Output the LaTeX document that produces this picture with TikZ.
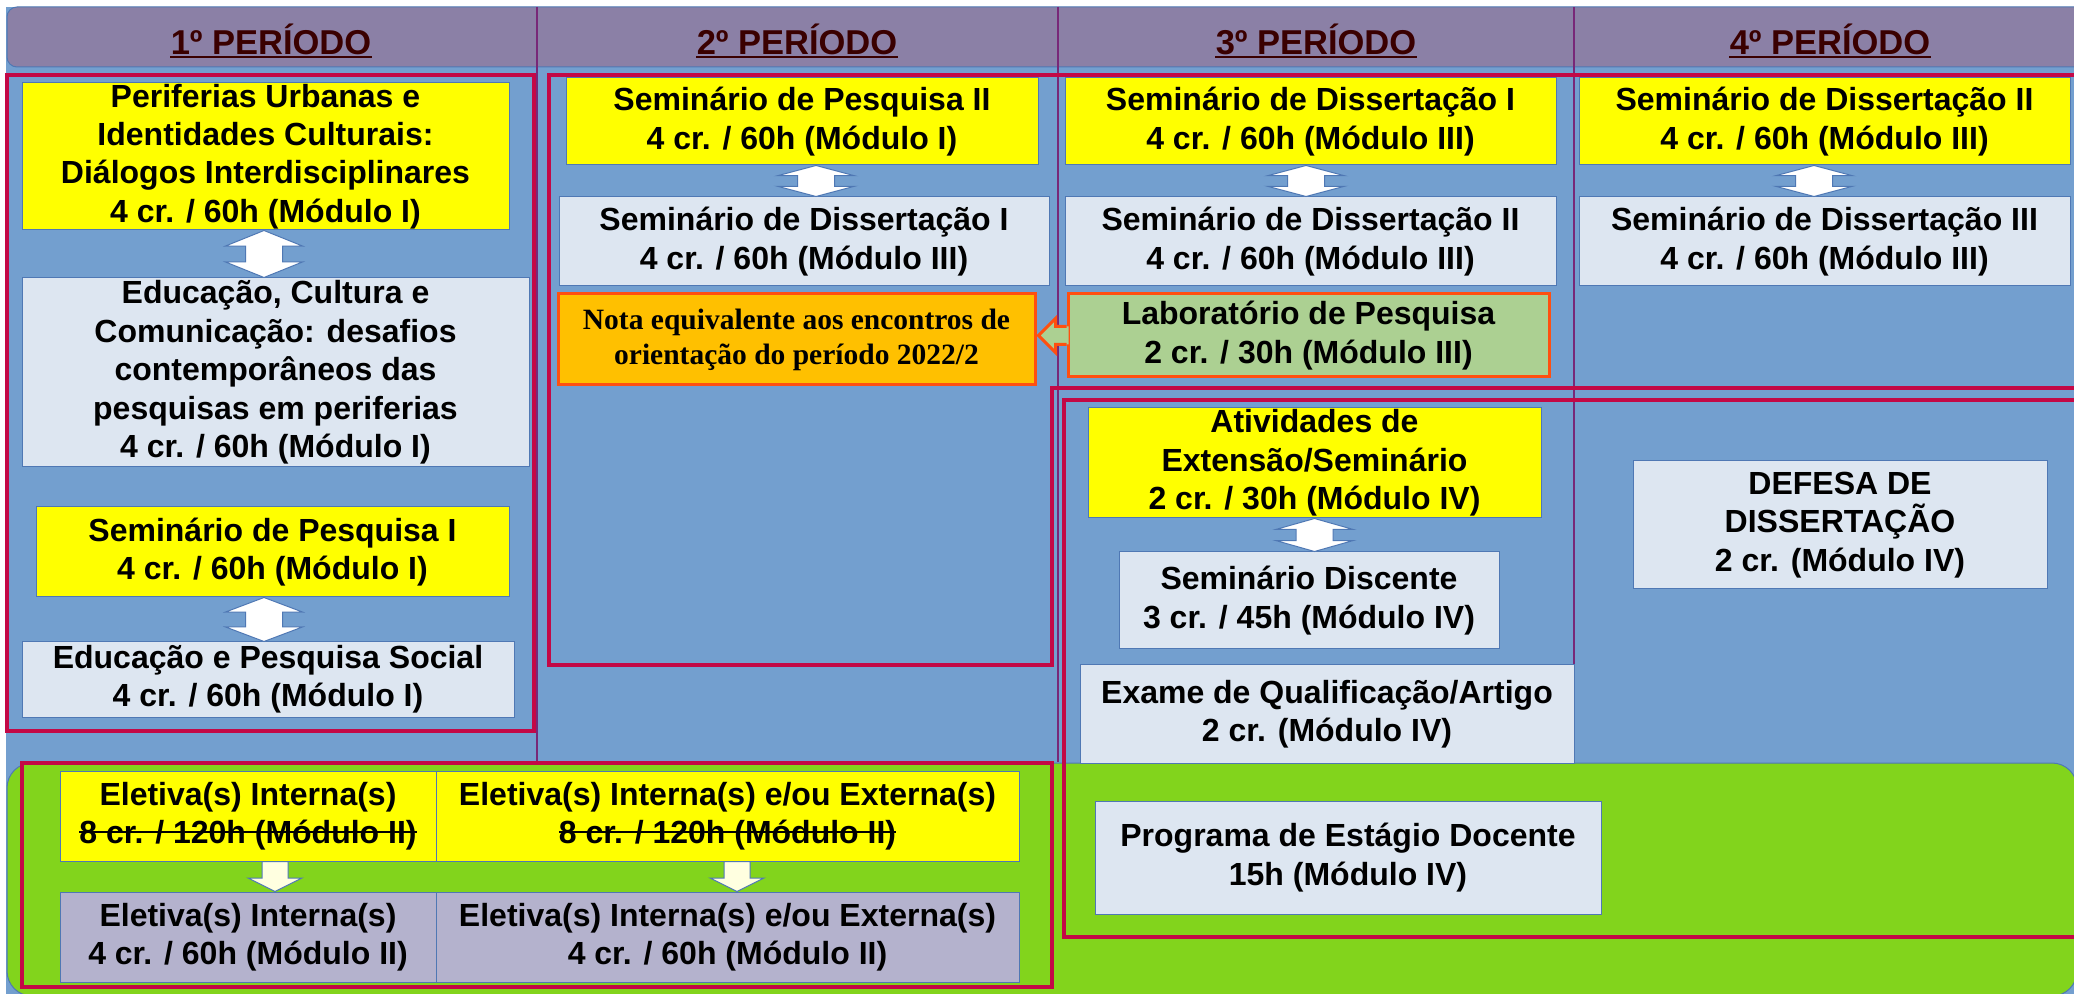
\documentclass[tikz,border=0pt]{standalone}
\usepackage{fontspec}
\setmainfont{Liberation Sans}
\newfontfamily\notafont{Liberation Serif}
\usetikzlibrary{calc}

\newsavebox\crossbox
\newcommand{\crossout}[1]{\sbox\crossbox{#1}\rlap{\rule[0.34em]{\wd\crossbox}{1pt}}\usebox\crossbox}

\definecolor{bgblue}{RGB}{115,159,207}
\definecolor{headpurple}{RGB}{139,128,166}
\definecolor{headtext}{RGB}{58,0,0}
\definecolor{framered}{RGB}{195,8,70}
\definecolor{divline}{RGB}{120,40,120}
\definecolor{boxline}{RGB}{79,120,180}
\definecolor{boxgray}{RGB}{221,230,241}
\definecolor{boxyellow}{RGB}{255,255,0}
\definecolor{eletgray}{RGB}{180,178,205}
\definecolor{labgreen}{RGB}{172,208,146}
\definecolor{notafill}{RGB}{255,192,0}
\definecolor{notaedge}{RGB}{255,80,16}
\definecolor{areagreen}{RGB}{130,212,28}
\definecolor{arrowcream}{RGB}{255,255,224}

\tikzset{
  period/.style={font=\bfseries\fontsize{17.25}{20}\selectfont, text=headtext, inner sep=0pt},
  periodline/.style={draw=headtext, line width=1pt},
  cbox/.style={draw=boxline, line width=0.5pt, align=center, inner xsep=2pt, inner ysep=0pt,
               font=\bfseries\fontsize{16}{19.2}\selectfont},
  ybox/.style={cbox, fill=boxyellow},
  gbox/.style={cbox, fill=boxgray},
  ebox/.style={cbox, fill=eletgray},
  labbox/.style={cbox, draw=notaedge, line width=1.5pt, fill=labgreen},
  notabox/.style={draw=notaedge, line width=1.5pt, fill=notafill, align=center, inner sep=0pt,
                  font=\notafont\bfseries\fontsize{14.75}{17.5}\selectfont},
  redframe/.style={draw=framered, line width=1.6pt},
  coldiv/.style={draw=divline, line width=0.6pt},
  twowayarrow/.style={fill=white, draw=boxline, line width=0.5pt},
  onewayarrow/.style={fill=arrowcream, draw=boxline, line width=0.5pt}
}

\newcommand{\twoway}[3]{%
  \filldraw[twowayarrow] let \p1=([xshift=#3]#1.south), \p2=(#2.north), \n1={\y1-\y2} in
    (\x1,\y1) -- ({\x1+19.25pt},{\y1-0.33*\n1}) -- ({\x1+9.25pt},{\y1-0.33*\n1})
    -- ({\x1+9.25pt},{\y1-0.67*\n1}) -- ({\x1+19.25pt},{\y1-0.67*\n1}) -- (\x1,\y2)
    -- ({\x1-19.25pt},{\y1-0.67*\n1}) -- ({\x1-9.25pt},{\y1-0.67*\n1})
    -- ({\x1-9.25pt},{\y1-0.33*\n1}) -- ({\x1-19.25pt},{\y1-0.33*\n1}) -- cycle;}
\newcommand{\oneway}[3]{%
  \filldraw[onewayarrow] let \p1=([xshift=#3]#1.south), \p2=(#2.north), \n1={\y1-\y2} in
    ({\x1-6.5pt},\y1) -- ({\x1+6.5pt},\y1) -- ({\x1+6.5pt},{\y1-0.55*\n1})
    -- ({\x1+13.5pt},{\y1-0.55*\n1}) -- (\x1,\y2) -- ({\x1-13.5pt},{\y1-0.55*\n1})
    -- ({\x1-6.5pt},{\y1-0.55*\n1}) -- cycle;}

\begin{document}
\begin{tikzpicture}[x=0.5pt,y=-0.5pt]
\useasboundingbox (0,0) rectangle (2074,994);
\clip (0,0) rectangle (2074,994);
\fill[white] (0,0) rectangle (2074,994);
\fill[bgblue] (6,7) rectangle (2074,994);
\filldraw[fill=headpurple, draw=boxline, line width=0.5pt, rounded corners=5pt] (7,7) rectangle (2090,67);
\filldraw[fill=areagreen, draw=boxline, line width=0.5pt, rounded corners=12.5pt] (7,763) rectangle (2077,996);
\foreach \cx in {537,1058,1574} \draw[coldiv] (\cx,7) -- (\cx,762);

\node[period] (p1) at (271,39) {1º PERÍODO};
\node[period] (p2) at (797,39) {2º PERÍODO};
\node[period] (p3) at (1316,39) {3º PERÍODO};
\node[period] (p4) at (1830,39) {4º PERÍODO};
\foreach \p in {p1,p2,p3,p4}
  \draw[periodline] ([yshift=-1.6pt]\p.base west) -- ([yshift=-1.6pt]\p.base east);

\draw[redframe] (7,75) rectangle (534,731);
\draw[redframe] (2090,388) -- (1052,388) -- (1052,665) -- (549,665) -- (549,75) -- (2090,75);
\draw[redframe] (2090,400) -- (1064,400) -- (1064,937) -- (2090,937);
\draw[redframe] (22,763) rectangle (1052,987);

\node[ybox, minimum width=243.5pt, minimum height=73.5pt] (perif) at (265.5,156.5)
  {Periferias Urbanas e\\Identidades Culturais:\\Diálogos Interdisciplinares\\4 cr. / 60h (Módulo I)};
\node[gbox, minimum width=253.5pt, minimum height=94.5pt] (educ) at (275.5,372.5)
  {Educação, Cultura e\\Comunicação: desafios\\contemporâneos das\\pesquisas em periferias\\4 cr. / 60h (Módulo I)};
\node[ybox, minimum width=236.5pt, minimum height=45pt] (sempesq1) at (272.5,552)
  {Seminário de Pesquisa I\\4 cr. / 60h (Módulo I)};
\node[gbox, minimum width=246pt, minimum height=37.5pt] (edpesq) at (268,679.5)
  {Educação e Pesquisa Social\\4 cr. / 60h (Módulo I)};

\node[ybox, minimum width=236pt, minimum height=43.5pt] (sempesq2) at (802,121.5)
  {Seminário de Pesquisa II\\4 cr. / 60h (Módulo I)};
\node[gbox, minimum width=245pt, minimum height=44.5pt] (semdissa) at (804,241.5)
  {Seminário de Dissertação I\\4 cr. / 60h (Módulo III)};
\node[notabox, minimum width=238.5pt, minimum height=45.5pt] (nota) at (796.5,339.5)
  {Nota equivalente aos encontros de\\orientação do período 2022/2};

\node[ybox, minimum width=245.5pt, minimum height=43.5pt] (semdissb) at (1310.5,121.5)
  {Seminário de Dissertação I\\4 cr. / 60h (Módulo III)};
\node[gbox, minimum width=245.5pt, minimum height=44.5pt] (semdissc) at (1310.5,241.5)
  {Seminário de Dissertação II\\4 cr. / 60h (Módulo III)};
\node[labbox, minimum width=240.5pt, minimum height=41.5pt] (lab) at (1308.5,335.5)
  {Laboratório de Pesquisa\\2 cr. / 30h (Módulo III)};
\node[ybox, minimum width=226.5pt, minimum height=55pt] (ativ) at (1314.5,463)
  {Atividades de\\Extensão/Seminário\\2 cr. / 30h (Módulo IV)};
\node[gbox, minimum width=190pt, minimum height=48.5pt] (semdisc) at (1309,600.5)
  {Seminário Discente\\3 cr. / 45h (Módulo IV)};
\node[gbox, minimum width=247pt, minimum height=49pt] (exame) at (1327,714)
  {Exame de Qualificação/Artigo\\2 cr. (Módulo IV)};
\node[gbox, minimum width=253pt, minimum height=56.5pt] (estagio) at (1348,857.5)
  {Programa de Estágio Docente\\15h (Módulo IV)};

\node[ybox, minimum width=245.5pt, minimum height=43.5pt] (semdissd) at (1824.5,121.5)
  {Seminário de Dissertação II\\4 cr. / 60h (Módulo III)};
\node[gbox, minimum width=245.5pt, minimum height=44.5pt] (semdisse) at (1824.5,241.5)
  {Seminário de Dissertação III\\4 cr. / 60h (Módulo III)};
\node[gbox, minimum width=207pt, minimum height=64pt] (defesa) at (1840,525)
  {DEFESA DE\\DISSERTAÇÃO\\2 cr. (Módulo IV)};

\node[ybox, minimum width=188pt, minimum height=45pt] (eletia) at (248,816)
  {Eletiva(s) Interna(s)\\\crossout{8 cr. / 120h (Módulo II)}};
\node[ybox, minimum width=291.5pt, minimum height=45pt] (eletib) at (727.5,816)
  {Eletiva(s) Interna(s) e/ou Externa(s)\\\crossout{8 cr. / 120h (Módulo II)}};
\node[ebox, minimum width=188pt, minimum height=45pt] (eletc) at (248,937)
  {Eletiva(s) Interna(s)\\4 cr. / 60h (Módulo II)};
\node[ebox, minimum width=291.5pt, minimum height=45pt] (eletd) at (727.5,937)
  {Eletiva(s) Interna(s) e/ou Externa(s)\\4 cr. / 60h (Módulo II)};

\coordinate (labtip) at ($(nota.east |- lab.west)+(1pt,0)$);
\fill[labgreen] ([xshift=1pt,yshift=4.5pt]lab.west) -- ([xshift=-5.5pt,yshift=4.5pt]lab.west)
  -- ([xshift=-5.5pt,yshift=8.5pt]lab.west) -- (labtip) -- ([xshift=-5.5pt,yshift=-8.5pt]lab.west)
  -- ([xshift=-5.5pt,yshift=-4.5pt]lab.west) -- ([xshift=1pt,yshift=-4.5pt]lab.west) -- cycle;
\draw[notaedge, line width=1.5pt] ([yshift=4.5pt]lab.west) -- ([xshift=-5.5pt,yshift=4.5pt]lab.west)
  -- ([xshift=-5.5pt,yshift=8.5pt]lab.west) -- (labtip) -- ([xshift=-5.5pt,yshift=-8.5pt]lab.west)
  -- ([xshift=-5.5pt,yshift=-4.5pt]lab.west) -- ([yshift=-4.5pt]lab.west);

\twoway{perif}{educ}{-0.75pt}
\twoway{sempesq1}{edpesq}{-4.25pt}
\twoway{sempesq2}{semdissa}{7pt}
\twoway{semdissb}{semdissc}{-2.25pt}
\twoway{semdissd}{semdisse}{-5.25pt}
\twoway{ativ}{semdisc}{0pt}
\oneway{eletia}{eletc}{13.5pt}
\oneway{eletib}{eletd}{4.75pt}
\end{tikzpicture}
\end{document}
